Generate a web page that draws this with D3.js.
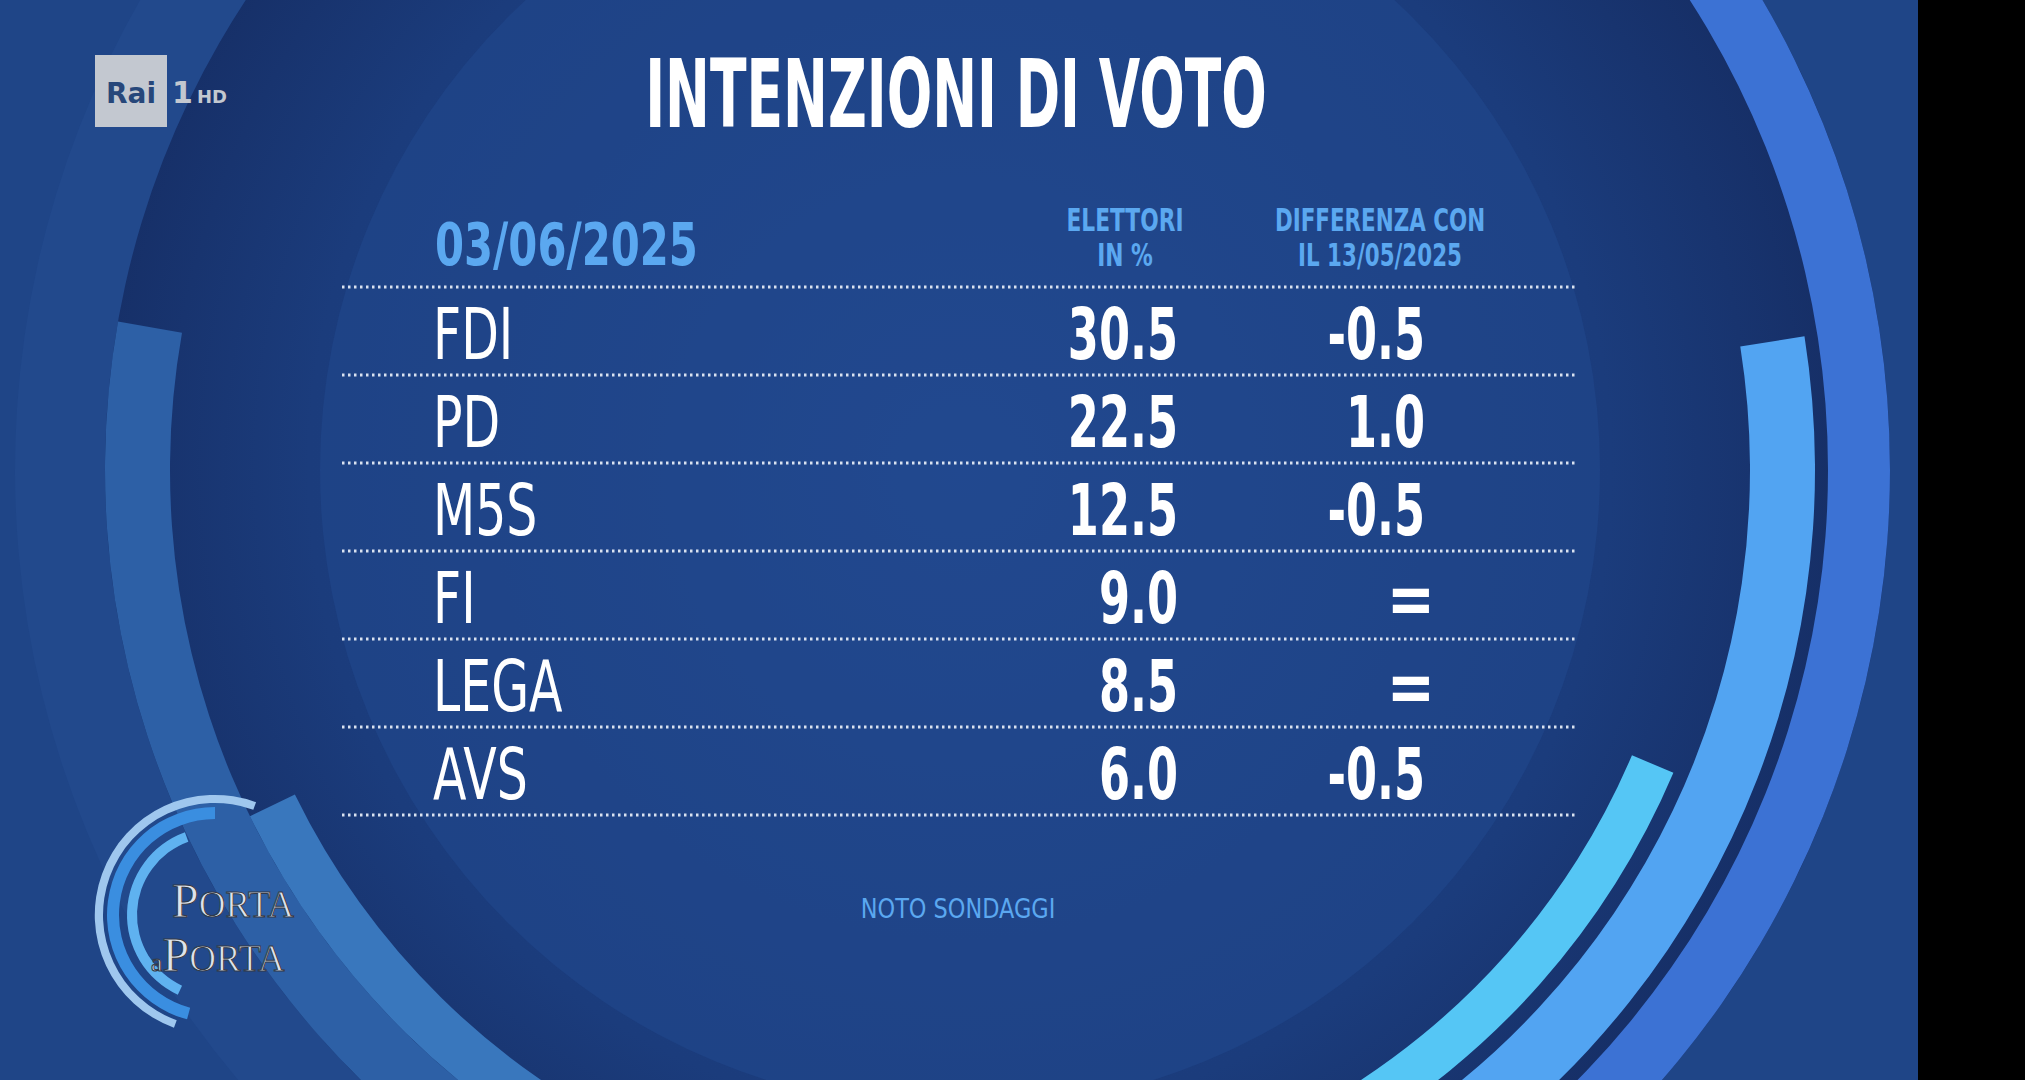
<!DOCTYPE html>
<html><head><meta charset="utf-8">
<script src="https://cdn.jsdelivr.net/npm/d3@7"></script>
<style>html,body{margin:0;padding:0;background:#000;overflow:hidden}</style>
</head><body>
<svg id="c" width="2025" height="1080"></svg>
<script>
const parties = ["FDI","PD","M5S","FI","LEGA","AVS"];
const votes = [30.5,22.5,12.5,9.0,8.5,6.0];
const diffs = ["-0.5","1.0","-0.5","=","=","-0.5"];
const title = "INTENZIONI DI VOTO";
const dateLabel = "03/06/2025";
const colHeader1 = ["ELETTORI","IN %"];
const colHeader2 = ["DIFFERENZA CON","IL 13/05/2025"];
const source = "NOTO SONDAGGI";

const svg = d3.select("#c");
const F = "'DejaVu Sans',sans-serif";
function txt(parent, x, y, sx, t, size, weight, fill, anchor){
  return parent.append("text").attr("transform",`translate(${x},${y}) scale(${sx},1)`)
    .attr("text-anchor",anchor||"start").attr("font-family",F).attr("font-weight",weight||"normal")
    .attr("font-size",size).attr("fill",fill).text(t);
}
const defs = svg.append("defs");
const rg = defs.append("radialGradient").attr("id","bg").attr("cx","0.5").attr("cy","0.5").attr("r","0.5");
rg.append("stop").attr("offset","0").attr("stop-color","#21478e");
rg.append("stop").attr("offset","0.7").attr("stop-color","#1b3c7c");
rg.append("stop").attr("offset","1").attr("stop-color","#152c62");
svg.append("rect").attr("width",1918).attr("height",1080).attr("fill","#1f4587");

const cx=960, cy=470;
const g = svg.append("g").attr("transform",`translate(${cx},${cy})`);
g.append("circle").attr("r",930).attr("fill","url(#bg)");
g.append("circle").attr("r",640).attr("fill","#22498f").attr("opacity",0.5);
const arc = d3.arc();
const deg = d=>d*Math.PI/180;
const arcs = [
  {i:855,o:945,s:195,e:335,c:"#22498c"},
  {i:790,o:855,s:205,e:280,c:"#2d60a6"},
  {i:740,o:790,s:205,e:244,c:"#3977bd"},
  {i:868,o:930,s:20,e:160,c:"#3c72d4"},
  {i:790,o:855,s:81,e:150,c:"#52a4f2"},
  {i:730,o:775,s:113,e:150,c:"#55c6f5"},
];
arcs.forEach(a=>g.append("path").attr("d",arc({innerRadius:a.i,outerRadius:a.o,startAngle:deg(a.s),endAngle:deg(a.e)})).attr("fill",a.c));
svg.append("rect").attr("x",1918).attr("width",107).attr("height",1080).attr("fill","#000");

// Rai logo
svg.append("rect").attr("x",95).attr("y",55).attr("width",72).attr("height",72).attr("fill","#c3c8d0");
txt(svg,131,103,1,"Rai",28,"bold","#27477a","middle");
txt(svg,172,103,1,"1",30,"bold","#c3c8d0");
txt(svg,197,103,1,"HD",18,"bold","#c3c8d0");

// Porta a Porta logo
const lg = svg.append("g").attr("transform","translate(215,915)");
lg.append("path").attr("d",arc({innerRadius:112,outerRadius:120,startAngle:deg(200),endAngle:deg(380)})).attr("fill","#9fc7ee");
lg.append("path").attr("d",arc({innerRadius:96,outerRadius:108,startAngle:deg(195),endAngle:deg(360)})).attr("fill","#3a8ee0");
lg.append("path").attr("d",arc({innerRadius:78,outerRadius:88,startAngle:deg(205),endAngle:deg(340)})).attr("fill","#5fb2f0");
const ps = "'Liberation Serif',serif";
const logoLines = [{x:-43,y:2,parts:[["P",48],["ORTA",37]]},{x:-64,y:56,parts:[["a",26],["P",48],["ORTA",37]]}];
logoLines.forEach(l=>{
  const t = lg.append("text").attr("x",l.x).attr("y",l.y).attr("font-family",ps)
    .attr("fill","#dfe3ea").attr("stroke","#333a48").attr("stroke-width",1);
  l.parts.forEach(p=>t.append("tspan").attr("font-size",p[1]).text(p[0]));
});

// Title
txt(svg,956,127,0.57,title,94,"bold","#fff","middle");

// headers
txt(svg,435,265,0.72,dateLabel,58,"bold","#5ba8f0");
colHeader1.forEach((t,i)=>txt(svg,1125,231+35*i,0.68,t,32,"bold","#5ba8f0","middle"));
colHeader2.forEach((t,i)=>txt(svg,1380,231+35*i,0.67,t,32,"bold","#5ba8f0","middle"));

// rows
const y = d3.scaleBand().domain(parties).range([287,287+88*parties.length]);
const lines = [287].concat(parties.map(p=>y(p)+y.bandwidth()));
svg.selectAll("line.sep").data(lines).join("line").attr("class","sep")
  .attr("x1",342).attr("x2",1576).attr("y1",d=>d).attr("y2",d=>d)
  .attr("stroke","#d9e2f0").attr("stroke-width",3).attr("stroke-dasharray","2.5 3.5");
parties.forEach((p,i)=>{
  const yy = y(p)+y.bandwidth()/2+28;
  txt(svg,433,yy,0.68,p,72,"normal","#fff");
  txt(svg,1178,yy,0.62,votes[i].toFixed(1),72,"bold","#fff","end");
  if(diffs[i]==="=") txt(svg,1411,yy,0.8,diffs[i],72,"bold","#fff","middle");
  else txt(svg,1425,yy,0.62,diffs[i],72,"bold","#fff","end");
});

txt(svg,958,918,0.83,source,27,"normal","#5ba8f0","middle");
</script>
</body></html>
